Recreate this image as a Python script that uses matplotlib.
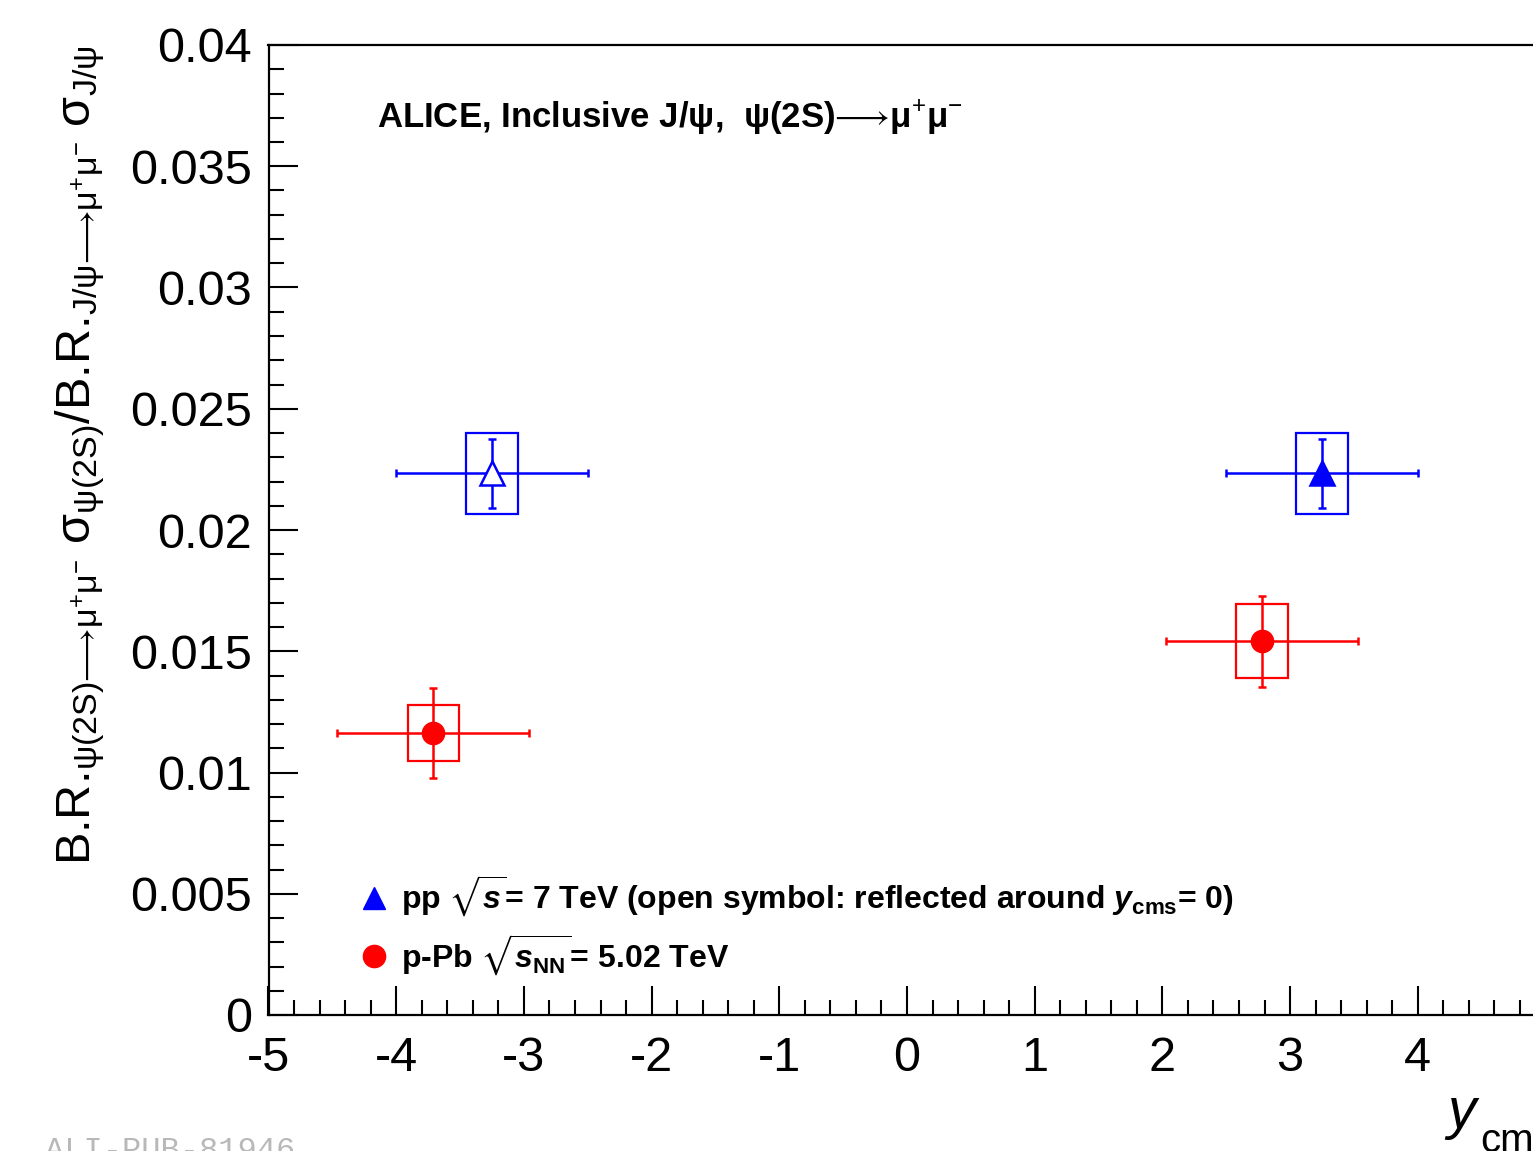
#!/usr/bin/env python3
"""
psi(2S)/J/psi ratio vs rapidity, pp and p-Pb
"""
import numpy as np
import matplotlib
matplotlib.use('Agg')
import matplotlib.pyplot as plt
from matplotlib.patches import Rectangle
from matplotlib.lines import Line2D
from matplotlib.ticker import MultipleLocator, FuncFormatter

matplotlib.rcParams['font.family'] = ['Liberation Sans', 'DejaVu Sans']
matplotlib.rcParams['axes.unicode_minus'] = False
matplotlib.rcParams['mathtext.fontset'] = 'custom'
matplotlib.rcParams['mathtext.rm'] = 'Liberation Sans'
matplotlib.rcParams['mathtext.it'] = 'Liberation Sans:italic'
matplotlib.rcParams['mathtext.bf'] = 'Liberation Sans:bold'
matplotlib.rcParams['mathtext.bfit'] = 'Liberation Sans:italic:bold'
matplotlib.rcParams['mathtext.sf'] = 'Liberation Sans'
matplotlib.rcParams['mathtext.fallback'] = 'stixsans'

# pp, sqrt(s)=7 TeV (first point: reflected around y_cms=0, open symbol)
pp_rap = [-3.25, 3.25]
pp_rap_err = [0.75, 0.75]
pp_ratio = [0.02234, 0.02234]
pp_stat = [0.00143, 0.00143]
pp_syst = [0.00168, 0.00168]
pp_open = [True, False]

# p-Pb, sqrt(sNN)=5.02 TeV
ppb_rap = [-3.71, 2.78]
ppb_rap_err = [0.75, 0.75]
ppb_ratio = [0.01162, 0.01541]
ppb_stat = [0.00186, 0.00187]
ppb_syst = [0.00115, 0.00153]

box_half = 0.2
blue = '#0000ff'
red = '#ff0000'

W, H = 1533, 1151
fig = plt.figure(figsize=(W / 100, H / 100), dpi=100)
ax = fig.add_axes([268.5 / W, 1 - 1015 / H, 1277 / W, 970 / H])

# systematic boxes
for x, y, s in zip(pp_rap, pp_ratio, pp_syst):
    ax.add_patch(Rectangle((x - box_half, y - s), 2 * box_half, 2 * s,
                           fill=False, edgecolor=blue, linewidth=1.6, zorder=2))
for x, y, s in zip(ppb_rap, ppb_ratio, ppb_syst):
    ax.add_patch(Rectangle((x - box_half, y - s), 2 * box_half, 2 * s,
                           fill=False, edgecolor=red, linewidth=1.6, zorder=2))

# stat errors and points
ax.errorbar(pp_rap, pp_ratio, xerr=pp_rap_err, yerr=pp_stat, fmt='none',
            ecolor=blue, elinewidth=1.8, capsize=3, capthick=1.8, zorder=3)
ax.errorbar(ppb_rap, ppb_ratio, xerr=ppb_rap_err, yerr=ppb_stat, fmt='none',
            ecolor=red, elinewidth=1.8, capsize=3, capthick=1.8, zorder=3)

for x, y, op in zip(pp_rap, pp_ratio, pp_open):
    ax.plot([x], [y], marker='^', markersize=17, linestyle='none',
            markerfacecolor='white' if op else blue, markeredgecolor=blue,
            markeredgewidth=1.8, zorder=4)
ax.plot(ppb_rap, ppb_ratio, marker='o', markersize=16, linestyle='none',
        color=red, zorder=4)

# axes
ax.set_xlim(-5, 5)
ax.set_ylim(0, 0.04)
ax.xaxis.set_major_locator(MultipleLocator(1))
ax.xaxis.set_minor_locator(MultipleLocator(0.2))
ax.yaxis.set_major_locator(MultipleLocator(0.005))
ax.yaxis.set_minor_locator(MultipleLocator(0.001))
ax.yaxis.set_major_formatter(FuncFormatter(lambda v, p: '%g' % round(v, 4)))
ax.xaxis.set_major_formatter(FuncFormatter(lambda v, p: '%d' % round(v)))
ax.tick_params(which='both', direction='in', top=False, right=False, width=1.5)
ax.tick_params(which='major', length=21, labelsize=35)
ax.tick_params(which='minor', length=11)
ax.tick_params(axis='y', pad=12)
ax.tick_params(axis='x', pad=15)
for sp in ax.spines.values():
    sp.set_linewidth(1.6)

# x title: y_cms
ax.set_xlabel('y', fontsize=41, style='italic', ha='left', va='baseline')
ax.xaxis.set_label_coords((1447 - 268.5) / 1277, (1015 - 1128) / 970)
fig.text(1480 / W, 1 - 1152 / H, 'cms', fontsize=29, ha='left', va='baseline')

# y title
fig.text(80 / W, 1 - 455 / H,
         r'B.R.$_{\mathrm{ψ(2S)⟶μ^{+}μ^{-}}}$ σ$_{\mathrm{ψ(2S)}}$/'
         r'B.R.$_{\mathrm{J/ψ⟶μ^{+}μ^{-}}}$ σ$_{\mathrm{J/ψ}}$',
         rotation=90, ha='center', va='center', fontsize=35)

fig.text(377 / W, 1 - 128 / H,
         r'ALICE, Inclusive J/ψ,  ψ(2S)$⟶$μ$^{+}$μ$^{-}$',
         fontsize=25, fontweight='bold', ha='left', va='baseline')

handles = [Line2D([], [], marker='^', color=blue, linestyle='none', markersize=16),
           Line2D([], [], marker='o', color=red, linestyle='none', markersize=16)]
labels = [r'pp $\sqrt{\mathbfit{s}}$= 7 TeV (open symbol: reflected around $\mathbfit{y}_{\mathbf{cms}}$= 0)',
          r'p-Pb $\sqrt{\mathbfit{s}_{\mathbf{NN}}}$= 5.02 TeV']
ax.legend(handles, labels, loc='upper left', bbox_to_anchor=(0.05, 0.175),
          frameon=False, handlelength=0.8, handletextpad=0.45, labelspacing=0.4,
          prop={'size': 23, 'weight': 'bold'})

fig.text(45 / W, 1 - 1159 / H, 'ALI-PUB-81946', family='Liberation Mono',
         fontsize=23, color='#b8b8b8', ha='left', va='baseline')

plt.savefig('out.png', dpi=100)
